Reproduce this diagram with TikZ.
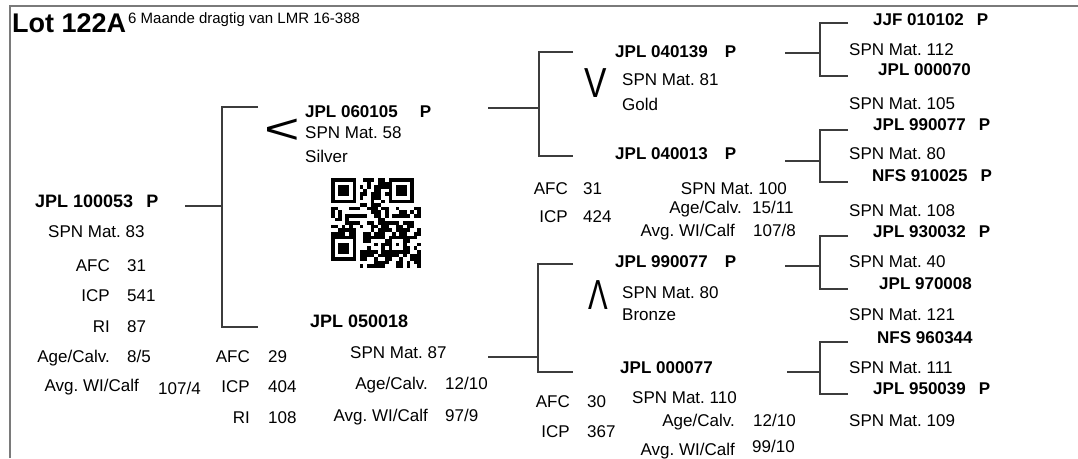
\documentclass[tikz,border=0pt]{standalone}
\usepackage{fontspec}
\setmainfont{Liberation Sans}
\usepackage{xcolor}
\usepackage{tikz}
\definecolor{linec}{HTML}{3C3C3C}
\definecolor{framec}{HTML}{7A7A7A}
\newcommand{\regp}[1][13pt]{\hspace{#1}P}
\frenchspacing
\tikzset{
  ln/.style={draw=linec,line width=1.1pt},
  nm/.style={font=\bfseries\fontsize{17}{20}\selectfont,inner sep=0pt,anchor=base west},
  big/.style={font=\bfseries\fontsize{18}{20}\selectfont},
  tx/.style={font=\fontsize{17}{20}\selectfont,inner sep=0pt,anchor=base west},
  lb/.style={tx,anchor=base east},
  sym/.style={font=\fontsize{42}{42}\selectfont,inner sep=0pt,anchor=center}
}

\begin{document}
\begin{tikzpicture}[x=1pt,y=-1pt]
\useasboundingbox (0,0) rectangle (1078,458);
\draw[framec,line width=2pt] (10,458) -- (10,6) -- (1078,6);
% title
\node[font=\bfseries\fontsize{27}{29}\selectfont,inner sep=0pt,anchor=base west] (lot) at (12,32) {Lot 122A};
\node[font=\fontsize{15}{16}\selectfont,inner sep=0pt,anchor=base west] (note) at (128,23) {6 Maande dragtig van LMR 16-388};
% animal
\node[nm,big] (sub) at (35,207) {JPL 100053\regp};
\node[tx] (subspn) at (48,237) {SPN Mat. 83};
\node[lb] (subafcl) at (110,271) {AFC};  \node[tx] (subafc) at (127,271) {31};
\node[lb] (subicpl) at (110,301) {ICP};  \node[tx] (subicp) at (127,301) {541};
\node[lb] (subril) at (110,332) {RI};    \node[tx] (subri) at (127,332) {87};
\node[lb] (subagel) at (110,362) {Age/Calv.}; \node[tx] (subage) at (127,362) {8/5};
\node[lb] (subwil) at (139,391) {Avg. WI/Calf}; \node[tx] (subwi) at (158,394) {107/4};
% sire
\node[sym] (sirem) at (282,131) {\scalebox{1.45}[1]{<}};
\node[nm] (sire) at (305,117) {JPL 060105\regp[22pt]};
\node[tx] (sirespn) at (305,138) {SPN Mat. 58};
\node[tx] (siremed) at (305,162) {Silver};
% qr code
\pgfmathsetseed{17}
\foreach \i in {0,...,24}{
  \foreach \j in {0,...,24}{
    \pgfmathtruncatemacro\on{(rnd<0.55)&&!((\i<8&&\j<8)||(\i>16&&\j<8)||(\i<8&&\j>16)||(\i>15&&\i<21&&\j>15&&\j<21))?1:0}
    \ifnum\on=1 \fill (331+\i*3.6,178+\j*3.6) rectangle ++(3.6,3.6); \fi
  }
}
\foreach \qx/\qy in {331/178,388.6/178,331/235.6}{
  \fill (\qx,\qy) rectangle ++(25.2,25.2);
  \fill[white] (\qx+3.6,\qy+3.6) rectangle ++(18,18);
  \fill (\qx+7.2,\qy+7.2) rectangle ++(10.8,10.8);
}
\fill (388.6,235.6) rectangle ++(18,18);
\fill[white] (392.2,239.2) rectangle ++(10.8,10.8);
\fill (395.8,242.8) rectangle ++(3.6,3.6);
% dam
\node[nm,big] (dam) at (310,327) {JPL 050018};
\node[tx] (damspn) at (350,358) {SPN Mat. 87};
\node[lb] (damafcl) at (250,362) {AFC}; \node[tx] (damafc) at (268,362) {29};
\node[lb] (damicpl) at (250,392) {ICP}; \node[tx] (damicp) at (268,392) {404};
\node[lb] (damril) at (250,423) {RI};   \node[tx] (damri) at (268,423) {108};
\node[lb] (damagel) at (428,389) {Age/Calv.};    \node[tx] (damage) at (445,389) {12/10};
\node[lb] (damwil) at (428,421) {Avg. WI/Calf}; \node[tx] (damwi) at (445,421) {97/9};
% sire's parents
\node[nm] (ss) at (615,57) {JPL 040139\regp[17pt]};
\node[sym] (ssm) at (596,83) {\scalebox{0.8}[1]{V}};
\node[tx] (ssspn) at (622,85) {SPN Mat. 81};
\node[tx] (ssmed) at (622,110) {Gold};
\node[nm] (sd) at (615,159) {JPL 040013\regp[17pt]};
\node[lb] (sdafcl) at (568,194) {AFC}; \node[tx] (sdafc) at (583,194) {31};
\node[lb] (sdicpl) at (568,222) {ICP}; \node[tx] (sdicp) at (583,222) {424};
\node[lb] (sdspn) at (787,194) {SPN Mat. 100};
\node[lb] (sdagel) at (742,213) {Age/Calv.};    \node[tx] (sdage) at (752,213) {15/11};
\node[lb] (sdwil) at (735,236) {Avg. WI/Calf}; \node[tx] (sdwi) at (753,236) {107/8};
% dam's parents
\node[nm] (ds) at (615,267) {JPL 990077\regp[17pt]};
\node[sym] (dsm) at (598,295) {\scalebox{0.7}[1]{Λ}};
\node[tx] (dsspn) at (622,298) {SPN Mat. 80};
\node[tx] (dsmed) at (622,320) {Bronze};
\node[nm] (dd) at (620,373) {JPL 000077};
\node[lb] (ddafcl) at (570,407) {AFC}; \node[tx] (ddafc) at (587,407) {30};
\node[tx] (ddspn) at (632,403) {SPN Mat. 110};
\node[lb] (ddicpl) at (570,437) {ICP}; \node[tx] (ddicp) at (587,437) {367};
\node[lb] (ddagel) at (735,426) {Age/Calv.};    \node[tx] (ddage) at (753,426) {12/10};
\node[lb] (ddwil) at (735,455) {Avg. WI/Calf}; \node[tx] (ddwi) at (752,452) {99/10};
% grandparents' parents
\node[nm] (sss) at (873,25) {JJF 010102\regp};
\node[tx] (sssspn) at (849,55) {SPN Mat. 112};
\node[nm] (ssd) at (878,75) {JPL 000070};
\node[tx] (ssdspn) at (849,109) {SPN Mat. 105};
\node[nm] (sds) at (873,130) {JPL 990077\regp};
\node[tx] (sdsspn) at (849,159) {SPN Mat. 80};
\node[nm] (sdd) at (872,181) {NFS 910025\regp};
\node[tx] (sddspn) at (849,216) {SPN Mat. 108};
\node[nm] (dss) at (873,237) {JPL 930032\regp};
\node[tx] (dssspn) at (849,267) {SPN Mat. 40};
\node[nm] (dsd) at (879,289) {JPL 970008};
\node[tx] (dsdspn) at (849,320) {SPN Mat. 121};
\node[nm] (dds) at (877,343) {NFS 960344};
\node[tx] (ddsspn) at (849,373) {SPN Mat. 111};
\node[nm] (ddd) at (873,394) {JPL 950039\regp};
\node[tx] (dddspn) at (849,426) {SPN Mat. 109};
% brackets
\foreach \n/\xs/\ys/\xv/\xe/\yt/\yb in {a/185/206/222/258/107/327, b/488/108/539/573/52/156,
    c/488/357/538/573/264/372, d/785/53/820/848/23/76, e/785/161/820/848/130/182,
    f/785/266/820/848/236/289, g/787/372/820/848/342/394}{
  \coordinate (\n0) at (\xs,\ys);
  \coordinate (\n1) at (\xv,\ys);
  \coordinate (\n2) at (\xe,\yt);
  \coordinate (\n3) at (\xe,\yb);
  \draw[ln] (\n2) -| (\n1) |- (\n3);
  \draw[ln] (\n0) -- (\n1);
}
\end{tikzpicture}
\end{document}
